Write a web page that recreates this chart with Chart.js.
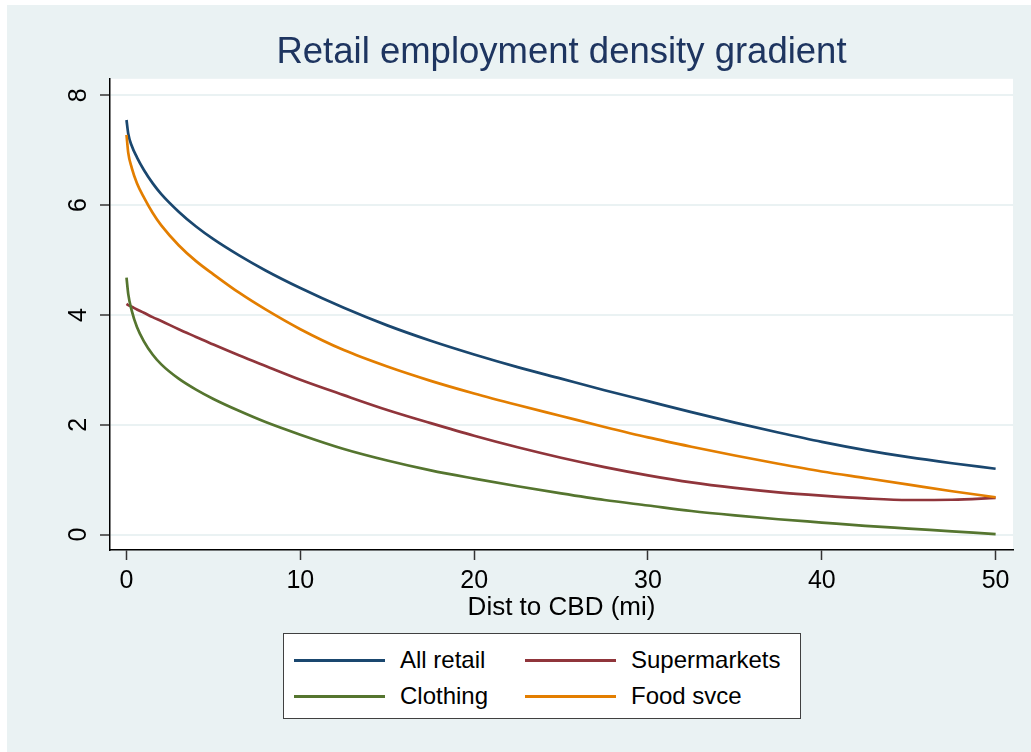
<!DOCTYPE html>
<html>
<head>
<meta charset="utf-8">
<script src="https://cdn.jsdelivr.net/npm/chart.js@4"></script>
<style>
  body { margin: 0; background: #ffffff; font-family: "Liberation Sans", Arial, sans-serif; }
  #frame { position: absolute; left: 7px; top: 5px; width: 1024px; height: 747px; background: #eaf2f3; }
  #chart { position: absolute; left: 0; top: 0; }
  #legend {
    position: absolute; left: 276px; top: 628px; width: 516px; height: 84px;
    background: #ffffff; border: 1px solid #404040;
  }
  .item { position: absolute; font-size: 24px; color: #000; line-height: 24px; }
  .item span.sw { position: absolute; top: 11px; width: 91px; height: 2.5px; }
  .item span.tx { position: absolute; left: 106px; top: 0; white-space: nowrap; }
</style>
</head>
<body>
<div id="frame">
  <canvas id="chart" width="1024" height="747"></canvas>
  <div id="legend"></div>
</div>
<script>
// distance to CBD (miles)
const distances = [0, 0.1, 0.3, 0.6, 1, 1.5, 2, 3, 4, 5, 6.5, 8, 10, 12.5, 15, 17.5, 20,
  22.5, 25, 27.5, 30, 32.5, 35, 37.5, 40, 42.5, 45, 47.5, 50];

const allRetail = [7.55, 7.30, 7.08, 6.87, 6.64, 6.40, 6.20, 5.88, 5.61, 5.38, 5.08, 4.81, 4.49,
  4.13, 3.81, 3.53, 3.28, 3.05, 2.84, 2.63, 2.43, 2.23, 2.04, 1.86, 1.69, 1.54, 1.41, 1.30, 1.20];
const supermarkets = [4.20, 4.18, 4.15, 4.10, 4.04, 3.96, 3.89, 3.74, 3.60, 3.46, 3.26, 3.07, 2.82,
  2.54, 2.27, 2.03, 1.80, 1.59, 1.40, 1.23, 1.08, 0.95, 0.85, 0.77, 0.71, 0.66, 0.63, 0.635, 0.67];
const clothing = [4.68, 4.38, 4.08, 3.78, 3.52, 3.28, 3.10, 2.84, 2.64, 2.47, 2.25, 2.05, 1.82,
  1.56, 1.35, 1.17, 1.02, 0.88, 0.75, 0.63, 0.53, 0.43, 0.35, 0.28, 0.22, 0.16, 0.11, 0.06, 0.01];
const foodSvce = [7.28, 6.95, 6.68, 6.40, 6.14, 5.86, 5.63, 5.27, 4.98, 4.74, 4.40, 4.10, 3.74,
  3.36, 3.06, 2.80, 2.57, 2.36, 2.16, 1.96, 1.77, 1.60, 1.44, 1.29, 1.15, 1.03, 0.91, 0.79, 0.68];

const seriesNames = ["All retail", "Supermarkets", "Clothing", "Food svce"];
const seriesColors = ["#1a476f", "#90353b", "#55752f", "#e37e00"];
const seriesData = [allRetail, supermarkets, clothing, foodSvce];

const font = "'Liberation Sans', Arial, sans-serif";

function toPoints(values) {
  return values.map((v, i) => ({ x: distances[i], y: v }));
}

const datasets = seriesNames.map((name, i) => ({
  label: name,
  data: toPoints(seriesData[i]),
  borderColor: seriesColors[i],
  borderWidth: 2.7,
  pointRadius: 0,
  fill: false,
  cubicInterpolationMode: "monotone"
}));

// draw "Food svce" above "Clothing" like the reference
datasets.reverse();

// white plot region
const plotBg = {
  id: "plotBg",
  beforeDraw(chart) {
    const a = chart.chartArea;
    const ctx = chart.ctx;
    ctx.save();
    ctx.fillStyle = "#ffffff";
    ctx.fillRect(a.left, a.top, a.right - a.left, a.bottom - a.top);
    ctx.restore();
  }
};

new Chart(document.getElementById("chart"), {
  type: "line",
  data: { datasets: datasets },
  plugins: [plotBg],
  options: {
    responsive: false,
    animation: false,
    layout: { padding: { left: 40, right: 18, top: 0, bottom: 131 } },
    plugins: {
      legend: { display: false },
      tooltip: { enabled: false },
      title: {
        display: true,
        text: "Retail employment density gradient",
        color: "#1e3560",
        fullSize: false,
        font: { family: font, size: 36.5, weight: "normal", lineHeight: 1.2 },
        padding: { top: 26.5, bottom: 3.5 }
      }
    },
    scales: {
      x: {
        type: "linear",
        min: -0.95,
        max: 51,
        border: { display: true, color: "#000000", width: 1.5 },
        grid: { display: true, drawOnChartArea: false, drawTicks: true, tickLength: 10, tickColor: "#333333", tickWidth: 1.5 },
        ticks: {
          stepSize: 10, includeBounds: false, padding: 18, color: "#000000",
          maxRotation: 0, minRotation: 0,
          font: { family: font, size: 25, lineHeight: 0.28 }
        },
        title: {
          display: true, text: "Dist to CBD (mi)", color: "#000000",
          font: { family: font, size: 26, lineHeight: 1 },
          padding: { top: -8, bottom: 0 }
        }
      },
      y: {
        min: -0.28,
        max: 8.3,
        border: { display: true, color: "#000000", width: 1.5 },
        grid: { color: "#eaf2f3", lineWidth: 2, tickLength: 10, tickColor: "#333333", tickWidth: 1.5 },
        ticks: {
          stepSize: 2, includeBounds: false, padding: 14, color: "#000000",
          minRotation: 90, maxRotation: 90, crossAlign: "center",
          font: { family: font, size: 25, lineHeight: 1 }
        }
      }
    }
  }
});

// legend box (two columns, like the Stata legend)
const legendEl = document.getElementById("legend");
seriesNames.forEach((name, k) => {
  const col = k % 2, row = Math.floor(k / 2);
  const item = document.createElement("div");
  item.className = "item";
  item.style.left = (col === 0 ? 10 : 241) + "px";
  item.style.top = (row === 0 ? 14 : 50) + "px";
  item.innerHTML = '<span class="sw" style="background:' + seriesColors[k] + '"></span>' +
    '<span class="tx">' + name + '</span>';
  legendEl.appendChild(item);
});
</script>
</body>
</html>
